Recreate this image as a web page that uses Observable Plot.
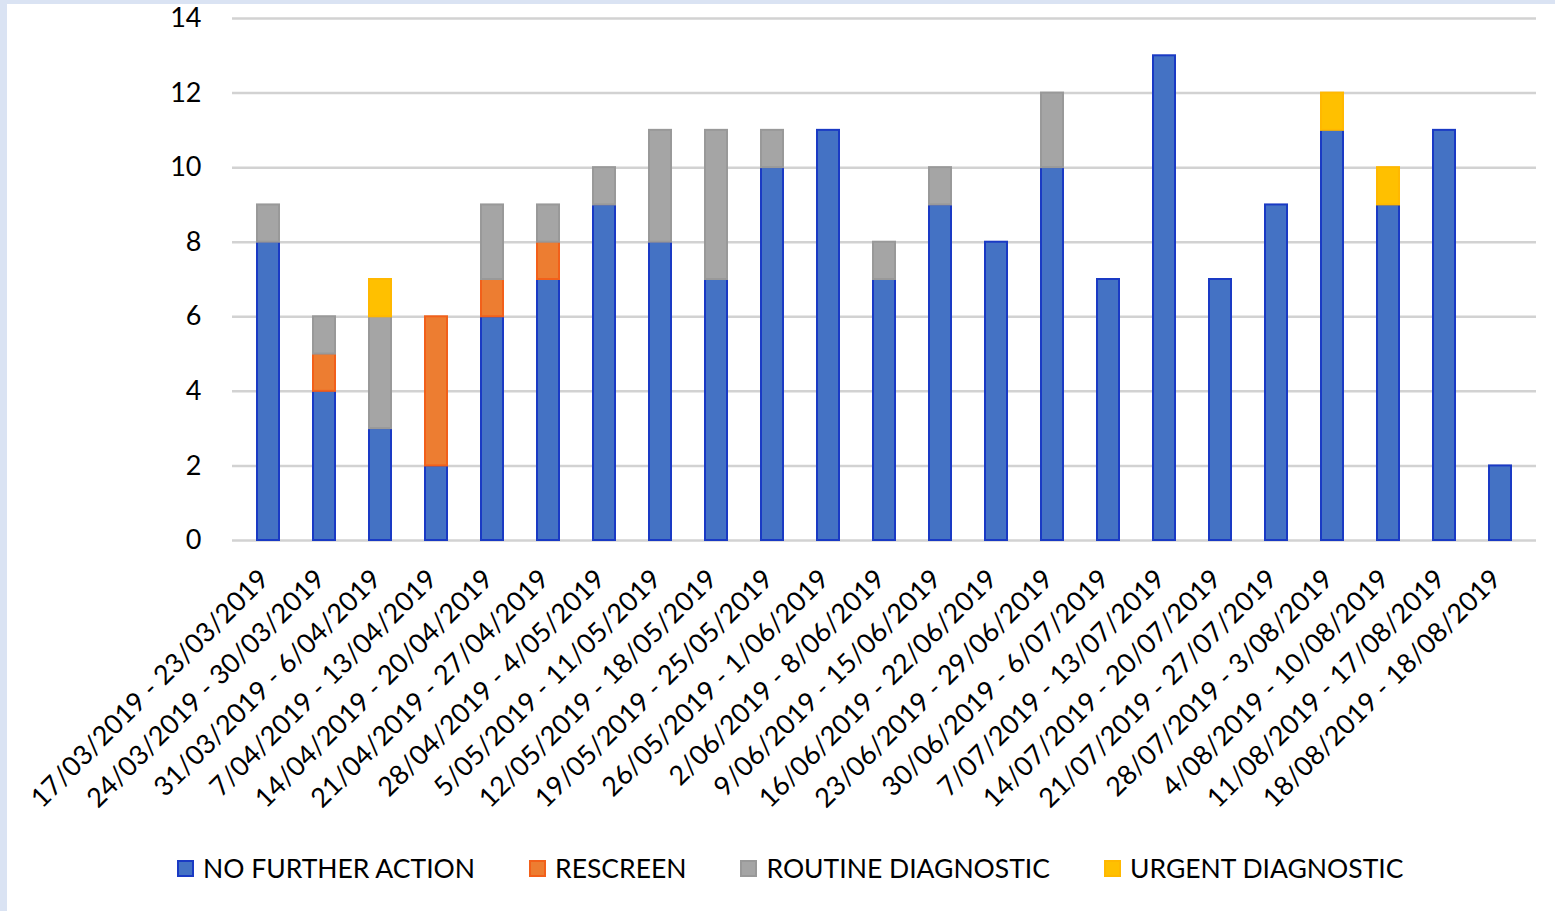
<!DOCTYPE html>
<html>
<head>
<meta charset="utf-8">
<script src="https://cdn.jsdelivr.net/npm/d3@7"></script>
<script src="https://cdn.jsdelivr.net/npm/@observablehq/plot@0.6"></script>
<style>
  html, body { margin: 0; padding: 0; background: #fff; }
  #wrap { position: relative; width: 1555px; height: 911px; overflow: hidden; font-family: Lato, "Open Sans", sans-serif; }
  #frameL { position: absolute; left: 0; top: 0; width: 7px; height: 911px; background: #DAE3F3; }
  #frameT { position: absolute; left: 0; top: 0; width: 1555px; height: 4px; background: #DAE3F3; }
  #legend { position: absolute; left: 177px; top: 852px; display: flex; align-items: center; font-size: 26.5px; color: #000; }
  .item { display: flex; align-items: center; margin-right: 54px; }
  .sw { width: 13px; height: 13px; border: 2px solid; margin-right: 9px; }
</style>
</head>
<body>
<div id="wrap">
  <div id="chart"></div>
  <div id="legend"></div>
  <div id="frameL"></div>
  <div id="frameT"></div>
</div>
<script>
const categories = [
  "17/03/2019 - 23/03/2019", "24/03/2019 - 30/03/2019", "31/03/2019 - 6/04/2019",
  "7/04/2019 - 13/04/2019", "14/04/2019 - 20/04/2019", "21/04/2019 - 27/04/2019",
  "28/04/2019 - 4/05/2019", "5/05/2019 - 11/05/2019", "12/05/2019 - 18/05/2019",
  "19/05/2019 - 25/05/2019", "26/05/2019 - 1/06/2019", "2/06/2019 - 8/06/2019",
  "9/06/2019 - 15/06/2019", "16/06/2019 - 22/06/2019", "23/06/2019 - 29/06/2019",
  "30/06/2019 - 6/07/2019", "7/07/2019 - 13/07/2019", "14/07/2019 - 20/07/2019",
  "21/07/2019 - 27/07/2019", "28/07/2019 - 3/08/2019", "4/08/2019 - 10/08/2019",
  "11/08/2019 - 17/08/2019", "18/08/2019 - 18/08/2019"
];
const seriesNames = ["NO FURTHER ACTION", "RESCREEN", "ROUTINE DIAGNOSTIC", "URGENT DIAGNOSTIC"];
const noFurtherAction = [8, 4, 3, 2, 6, 7, 9, 8, 7, 10, 11, 7, 9, 8, 10, 7, 13, 7, 9, 11, 9, 11, 2];
const rescreen        = [0, 1, 0, 4, 1, 1, 0, 0, 0, 0, 0, 0, 0, 0, 0, 0, 0, 0, 0, 0, 0, 0, 0];
const routineDiag     = [1, 1, 3, 0, 2, 1, 1, 3, 4, 1, 0, 1, 1, 0, 2, 0, 0, 0, 0, 0, 0, 0, 0];
const urgentDiag      = [0, 0, 1, 0, 0, 0, 0, 0, 0, 0, 0, 0, 0, 0, 0, 0, 0, 0, 0, 1, 1, 0, 0];
const yTicks = [0, 2, 4, 6, 8, 10, 12, 14];

const fills   = ["#4472C4", "#ED7D31", "#A5A5A5", "#FFC000"];
const strokes = ["#1A3AC4", "#F2601A", "#999999", "#FFB800"];

const seriesValues = [noFurtherAction, rescreen, routineDiag, urgentDiag];
const rows = [];
seriesValues.forEach((vals, s) => {
  vals.forEach((v, i) => {
    if (v > 0) rows.push({category: categories[i], series: seriesNames[s], value: v});
  });
});

const W = 1555, H = 845;
const chart = Plot.plot({
  width: W,
  height: H,
  marginLeft: 232,
  marginRight: 19,
  marginTop: 18,
  marginBottom: H - 540,
  style: {fontFamily: "Lato, 'Open Sans', sans-serif", fontSize: "26px", color: "#000", background: "transparent"},
  x: {domain: categories, paddingInner: 0.6, paddingOuter: 0.3, label: null},
  y: {domain: [0, 14], ticks: yTicks, label: null},
  color: {domain: seriesNames, range: fills},
  marks: [
    Plot.ruleY(yTicks, {stroke: "#D2D2D2", strokeWidth: 2.5}),
    Plot.barY(rows, Plot.stackY({
      x: "category", y: "value", z: "series", order: seriesNames,
      fill: "series",
      stroke: d => strokes[seriesNames.indexOf(d.series)],
      strokeWidth: 2
    })),
    Plot.axisY(yTicks, {tickSize: 0, tickPadding: 31, fontSize: 27, label: null}),
    Plot.axisX({tickSize: 0, tickPadding: 34, dx: -4, tickRotate: -45, fontSize: 27, label: null})
  ]
});
document.getElementById("chart").appendChild(chart);

const legend = document.getElementById("legend");
seriesNames.forEach((name, i) => {
  const item = document.createElement("div");
  item.className = "item";
  const sw = document.createElement("div");
  sw.className = "sw";
  sw.style.background = fills[i];
  sw.style.borderColor = strokes[i];
  const t = document.createElement("span");
  t.textContent = name;
  item.appendChild(sw);
  item.appendChild(t);
  legend.appendChild(item);
});
</script>
</body>
</html>
